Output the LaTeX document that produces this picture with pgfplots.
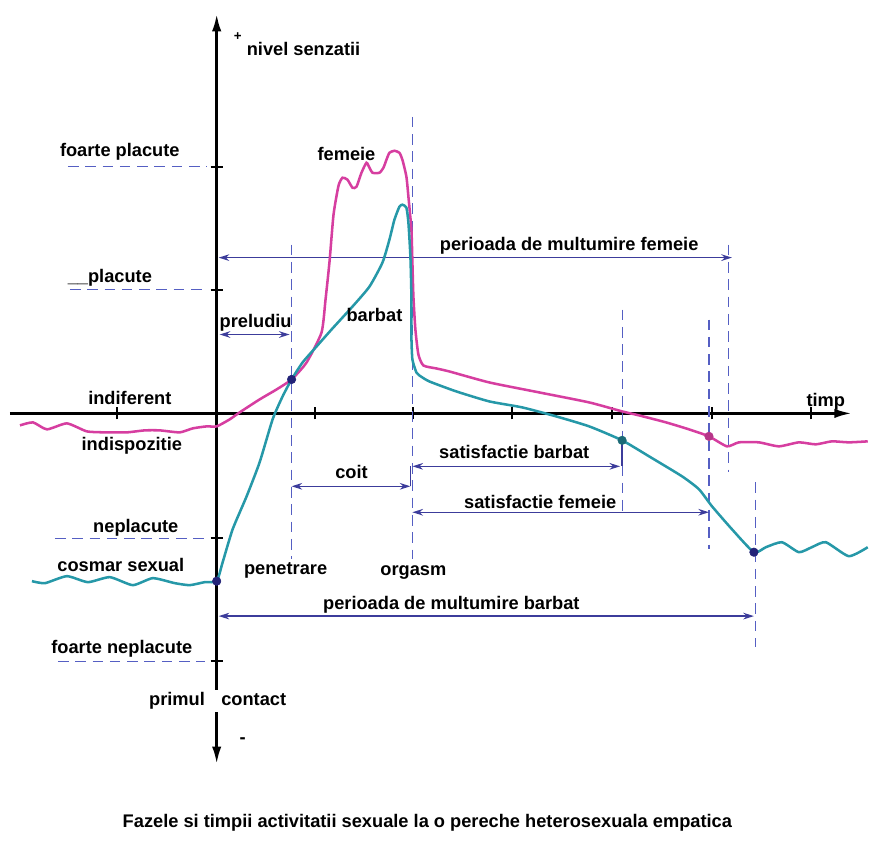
\documentclass[border=0pt]{standalone}
\usepackage{fontspec}
\setmainfont{Liberation Sans}
\usepackage{pgfplots}
\pgfplotsset{compat=1.18}
\usetikzlibrary{arrows.meta}
\definecolor{mag}{RGB}{214,62,160}
\definecolor{tealc}{RGB}{38,152,168}
\definecolor{dashc}{RGB}{85,95,195}
\definecolor{arrc}{RGB}{60,60,155}
\definecolor{navyc}{RGB}{35,35,120}
\begin{document}
\begin{tikzpicture}
\begin{axis}[
  scale only axis, width=632.25pt, height=563.25pt,
  xmin=-207, xmax=636, ymin=-351, ymax=400,
  axis lines=middle,
  axis line style={line width=2pt, black},
  x axis line style={-{Latex[length=13pt,width=7pt]}},
  y axis line style={{Latex[length=13pt,width=7pt]}-{Latex[length=13pt,width=7pt]}},
  xtick={-100,98,197,296,396,496,595},
  ytick={247,124,-125,-248},
  xticklabels={}, yticklabels={},
  tick align=center, major tick length=9pt,
  tick style={line width=1.5pt, black},
  clip=false,
  font=\fontsize{13.7}{16}\selectfont\bfseries,
]
% full picture frame
\path (axis cs:-217,-443) rectangle (axis cs:652,414);

% dashed guide lines at levels
\addplot[dashc, line width=0.8pt, dash pattern=on 8pt off 5pt] coordinates {(-149,247) (-10,247)};
\addplot[dashc, line width=0.8pt, dash pattern=on 8pt off 5pt] coordinates {(-147,124) (-10,124)};
\addplot[dashc, line width=0.8pt, dash pattern=on 8pt off 5pt] coordinates {(-162,-125) (-10,-125)};
\addplot[dashc, line width=0.8pt, dash pattern=on 8pt off 5pt] coordinates {(-159,-248) (-12,-248)};

% dashed vertical lines
\addplot[dashc, line width=0.8pt, dash pattern=on 8pt off 5pt] coordinates {(75,169) (75,-146)};
\addplot[dashc, line width=0.8pt, dash pattern=on 8pt off 5pt] coordinates {(196,297) (196,-146)};
\addplot[dashc, line width=0.8pt, dash pattern=on 8pt off 5pt] coordinates {(406,104) (406,-103)};
\addplot[dashc, line width=0.8pt, dash pattern=on 8pt off 5pt] coordinates {(493,94) (493,-136)};
\addplot[dashc, line width=0.8pt, dash pattern=on 8pt off 5pt] coordinates {(513,169) (513,-59)};
\addplot[dashc, line width=0.8pt, dash pattern=on 8pt off 5pt] coordinates {(540,-69) (540,-234)};

% interval arrows
\addplot[arrc, line width=1pt, {Stealth[length=8pt,width=5pt]}-{Stealth[length=8pt,width=5pt]}] coordinates {(3,79) (73,79)};
\addplot[arrc, line width=1pt, {Stealth[length=8pt,width=5pt]}-{Stealth[length=8pt,width=5pt]}] coordinates {(2,156) (516,156)};
\addplot[arrc, line width=1pt, {Stealth[length=8pt,width=5pt]}-{Stealth[length=8pt,width=5pt]}] coordinates {(75,-73) (194,-73)};
\addplot[arrc, line width=1pt, {Stealth[length=8pt,width=5pt]}-{Stealth[length=8pt,width=5pt]}] coordinates {(196,-53) (404,-53)};
\addplot[arrc, line width=1pt, {Stealth[length=8pt,width=5pt]}-{Stealth[length=8pt,width=5pt]}] coordinates {(196,-99) (493,-99)};
\addplot[arrc, line width=1pt, {Stealth[length=8pt,width=5pt]}-{Stealth[length=8pt,width=5pt]}] coordinates {(2,-203) (538,-203)};
\addplot[arrc, line width=1pt] coordinates {(194,-53) (194,-73)};
\addplot[arrc, line width=1pt] coordinates {(406,-27) (406,-53)};

% femeie curve
\addplot[mag, line width=1.9pt, smooth, tension=0.35] coordinates {
(-197,-12) (-184,-9) (-170,-16) (-150,-10) (-130,-18) (-110,-19) (-90,-19)
(-72,-17) (-57,-17) (-37,-19) (-24,-15) (-10,-13) (0,-13)
(13,-6) (23,1) (43,14) (60,24) (75,34) (90,51) (105,81)
(109,114) (113,152) (117,199) (122,228) (126,236) (131,234) (136,226)
(140,227) (145,241) (150,251) (153,246) (156,241) (163,241) (167,246)
(170,254) (173,261) (178,263) (183,261) (186,254) (190,237) (192,217)
(195,184) (196,151) (197,117) (199,84) (202,59) (207,48) (220,45)
(233,42) (273,31) (323,21) (373,11) (406,2) (423,-2) (450,-9)
(473,-16) (493,-23) (511,-33) (523,-29) (543,-29) (563,-33) (583,-29)
(600,-31) (616,-28) (633,-29) (652,-28)
};

% barbat curve
\addplot[tealc, line width=1.9pt, smooth, tension=0.35] coordinates {
(-185,-168) (-172,-170) (-150,-163) (-129,-169) (-107,-164) (-84,-172)
(-64,-165) (-42,-170) (-27,-172) (-12,-169) (0,-168)
(6,-149) (16,-116) (30,-83) (43,-49) (56,-6) (66,17) (75,34)
(86,51) (100,67) (115,84) (136,107) (153,127) (166,151) (173,174)
(178,194) (183,207) (186,209) (190,206) (192,191) (194,157) (195,117)
(195,77) (196,54) (200,41) (203,38) (213,32) (240,22) (273,12)
(306,6) (340,-3) (373,-13) (406,-27) (433,-43) (466,-63) (483,-76)
(496,-93) (516,-116) (538,-139) (550,-134) (566,-129) (583,-139)
(596,-134) (610,-129) (633,-143) (652,-134)
};

% points
\addplot[only marks, mark=*, mark size=3.2pt, navyc] coordinates {(0,-168) (75,34) (538,-139)};
\addplot[only marks, mark=*, mark size=3.2pt, tealc!70!black] coordinates {(406,-27)};
\addplot[only marks, mark=*, mark size=3.2pt, mag!85!black] coordinates {(493,-23)};

% labels
\node at (axis cs:21,377) {\fontsize{10}{12}\selectfont +};
\node at (axis cs:87,365) {nivel senzatii};
\node at (axis cs:-97,262) {foarte placute};
\node at (axis cs:130,260) {femeie};
\node at (axis cs:-107,136) {\_\_placute};
\node at (axis cs:39,91) {preludiu};
\node at (axis cs:158,99) {barbat};
\node at (axis cs:-87,15) {indiferent};
\node at (axis cs:-85,-32) {indispozitie};
\node at (axis cs:135,-59) {coit};
\node at (axis cs:-81,-115) {neplacute};
\node at (axis cs:-96,-152) {cosmar sexual};
\node at (axis cs:69,-157) {penetrare};
\node at (axis cs:197,-159) {orgasm};
\node at (axis cs:298,-39) {satisfactie barbat};
\node at (axis cs:324,-89) {satisfactie femeie};
\node at (axis cs:610,12) {timp};
\node at (axis cs:353,168) {perioada de multumire femeie};
\node at (axis cs:235,-192) {perioada de multumire barbat};
\node at (axis cs:-95,-236) {foarte neplacute};
\node[fill=white, inner sep=2pt] at (axis cs:1,-288) {primul\hspace{0.9em}contact};
\node at (axis cs:26,-328) {-};
\node at (axis cs:211,-410) {Fazele si timpii activitatii sexuale la o pereche heterosexuala empatica};
\end{axis}
\end{tikzpicture}
\end{document}
